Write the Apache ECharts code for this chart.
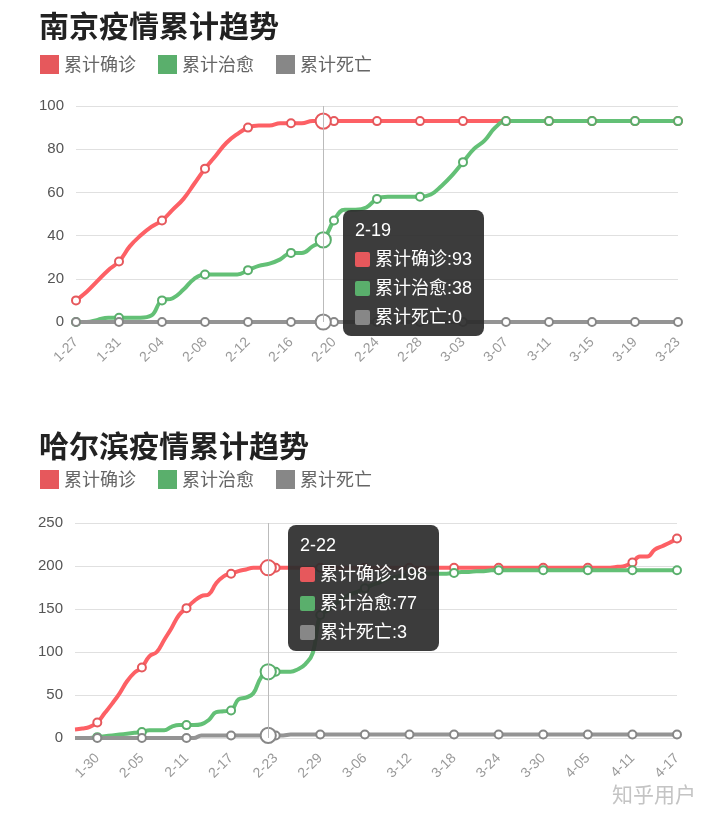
<!DOCTYPE html>
<html><head><meta charset="utf-8">
<script src="https://cdn.jsdelivr.net/npm/echarts@6/dist/echarts.min.js"></script>
<style>
html,body{margin:0;padding:0;background:#fff;width:720px;height:821px;overflow:hidden}
#c1{position:absolute;left:0;top:0;width:720px;height:415px}
#c2{position:absolute;left:0;top:415px;width:720px;height:406px}
</style></head><body>
<div id="c1"></div><div id="c2"></div>
<script>
const seriesNames = ['累计确诊', '累计治愈', '累计死亡'];
const seriesColors = ['#e6585c', '#5aaf6c', '#878787'];

// 南京
const njDates = ['1-27','1-28','1-29','1-30','1-31','2-01','2-02','2-03','2-04','2-05',
  '2-06','2-07','2-08','2-09','2-10','2-11','2-12','2-13','2-14','2-15',
  '2-16','2-17','2-18','2-19','2-20','2-21','2-22','2-23','2-24','2-25',
  '2-26','2-27','2-28','2-29','3-01','3-02','3-03','3-04','3-05','3-06',
  '3-07','3-08','3-09','3-10','3-11','3-12','3-13','3-14','3-15','3-16',
  '3-17','3-18','3-19','3-20','3-21','3-22','3-23'];
const njConfirmed = [10,14,19,24,28,35,40,44,47,52,
  57,64,71,77,83,87,90,91,91,92,
  92,92,93,93,93,93,93,93,93,93,
  93,93,93,93,93,93,93,93,93,93,
  93,93,93,93,93,93,93,93,93,93,
  93,93,93,93,93,93,93];
const njCured = [0,0,1,2,2,2,2,3,10,11,
  15,20,22,22,22,22,24,26,27,29,
  32,32,35,38,47,52,52,53,57,58,
  58,58,58,59,63,68,74,80,84,90,
  93,93,93,93,93,93,93,93,93,93,
  93,93,93,93,93,93,93];
const njDead = [0,0,0,0,0,0,0,0,0,0,
  0,0,0,0,0,0,0,0,0,0,
  0,0,0,0,0,0,0,0,0,0,
  0,0,0,0,0,0,0,0,0,0,
  0,0,0,0,0,0,0,0,0,0,
  0,0,0,0,0,0,0];

// 哈尔滨
const hrbDates = ['1-27','1-28','1-29','1-30','1-31','2-01','2-02','2-03','2-04','2-05',
  '2-06','2-07','2-08','2-09','2-10','2-11','2-12','2-13','2-14','2-15',
  '2-16','2-17','2-18','2-19','2-20','2-21','2-22','2-23','2-24','2-25',
  '2-26','2-27','2-28','2-29','3-01','3-02','3-03','3-04','3-05','3-06',
  '3-07','3-08','3-09','3-10','3-11','3-12','3-13','3-14','3-15','3-16',
  '3-17','3-18','3-19','3-20','3-21','3-22','3-23','3-24','3-25','3-26',
  '3-27','3-28','3-29','3-30','3-31','4-01','4-02','4-03','4-04','4-05',
  '4-06','4-07','4-08','4-09','4-10','4-11','4-12','4-13','4-14','4-15',
  '4-16','4-17'];
const hrbConfirmed = [10,11,13,18,29,40,52,66,76,82,
  95,100,114,128,143,151,159,165,167,180,
  188,191,194,196,198,198,198,198,198,198,
  198,198,198,198,198,198,198,198,198,198,
  198,198,198,198,198,198,198,198,198,198,
  198,198,198,198,198,198,198,198,198,198,
  198,198,198,198,198,198,198,198,198,198,
  198,198,198,199,200,204,211,211,219,223,
  227,232];
const hrbCured = [0,0,0,1,2,3,4,5,6,7,
  9,9,9,13,15,15,15,16,21,30,
  31,32,45,47,52,70,77,77,77,77,
  80,86,99,143,148,155,162,167,170,174,
  178,181,185,187,189,190,191,191,191,191,
  191,192,193,193,194,194,195,195,195,195,
  195,195,195,195,195,195,195,195,195,195,
  195,195,195,195,195,195,195,195,195,195,
  195,195];
const hrbDead = [0,0,0,0,0,0,0,0,0,0,
  0,0,0,0,0,0,0,3,3,3,
  3,3,3,3,3,3,3,3,3,4,
  4,4,4,4,4,4,4,4,4,4,
  4,4,4,4,4,4,4,4,4,4,
  4,4,4,4,4,4,4,4,4,4,
  4,4,4,4,4,4,4,4,4,4,
  4,4,4,4,4,4,4,4,4,4,
  4,4];

const FONT = '"Liberation Sans", "Noto Sans CJK SC", sans-serif';

function tipFormatter(params) {
  let h = '<div style="line-height:29px">' + params[0].axisValue + '</div>';
  params.forEach(function (p, i) {
    h += '<div style="line-height:29px;white-space:nowrap"><span style="display:inline-block;width:15px;height:15px;border-radius:2px;background:' +
      seriesColors[i] + ';margin-right:5px;vertical-align:-2px"></span>' + p.seriesName + ':' + p.value + '</div>';
  });
  return h;
}

function makeOption(cfg) {
  const values = [cfg.confirmed, cfg.cured, cfg.dead];
  return {
    animation: false,
    textStyle: { fontFamily: FONT },
    title: {
      text: cfg.title, left: 34, top: cfg.titleTop,
      textStyle: { fontSize: 30, fontWeight: 'bold', color: '#222', fontFamily: '"Noto Sans CJK SC", sans-serif' }
    },
    legend: {
      left: 35, top: cfg.legendTop, icon: 'rect', itemWidth: 19, itemHeight: 19, itemGap: 22,
      selectedMode: false,
      itemStyle: { borderWidth: 0 },
      textStyle: { fontSize: 18, color: '#666', fontFamily: '"Noto Sans CJK SC", sans-serif' },
      data: seriesNames.map(function (n, i) { return { name: n, itemStyle: { color: seriesColors[i] } }; })
    },
    grid: { left: cfg.gridLeft, right: cfg.gridRight, top: cfg.gridTop, bottom: cfg.gridBottom },
    tooltip: {
      trigger: 'axis', alwaysShowContent: true, triggerOn: 'none',
      backgroundColor: 'rgba(45,45,45,0.93)', borderWidth: 0, padding: [6, 12, 4, 12],
      textStyle: { color: '#fff', fontSize: 18, fontFamily: FONT },
      extraCssText: 'border-radius:8px;box-shadow:none;',
      position: function () { return cfg.tipPos; },
      axisPointer: { type: 'line', lineStyle: { color: '#bbb', width: 1, type: 'solid' } },
      formatter: tipFormatter
    },
    xAxis: {
      type: 'category', data: cfg.dates, boundaryGap: false,
      axisLine: { show: false }, axisTick: { show: false },
      axisLabel: { interval: cfg.labelInterval, rotate: 45, color: '#999', fontSize: 14, margin: 18 }
    },
    yAxis: {
      type: 'value', min: 0, max: cfg.yMax, interval: cfg.yInterval,
      axisLine: { show: false }, axisTick: { show: false },
      axisLabel: { color: '#555', fontSize: 15, margin: 12 },
      splitLine: { lineStyle: { color: '#e0e0e0' } }
    },
    graphic: cfg.graphic || [],
    series: seriesNames.map(function (n, i) {
      return {
        name: n, type: 'line', data: values[i], smooth: 0.45,
        symbol: 'emptyCircle', symbolSize: 8,
        lineStyle: { width: 4, color: seriesColors[i] },
        itemStyle: { color: seriesColors[i], borderWidth: 1 },
        emphasis: { scale: 1.9, lineStyle: { width: 4 } }
      };
    })
  };
}

const c1 = echarts.init(document.getElementById('c1'));
c1.setOption(makeOption({
  title: '南京疫情累计趋势', titleTop: 6, legendTop: 50,
  dates: njDates, confirmed: njConfirmed, cured: njCured, dead: njDead,
  yMax: 100, yInterval: 20, labelInterval: 3,
  gridLeft: 76, gridRight: 42, gridTop: 106, gridBottom: 93,
  tipPos: [343, 210]
}));
c1.dispatchAction({ type: 'showTip', seriesIndex: 0, dataIndex: 23 });

const c2 = echarts.init(document.getElementById('c2'));
c2.setOption(makeOption({
  title: '哈尔滨疫情累计趋势', titleTop: 11, legendTop: 50,
  dates: hrbDates, confirmed: hrbConfirmed, cured: hrbCured, dead: hrbDead,
  yMax: 250, yInterval: 50, labelInterval: function (idx) { return (idx - 3) % 6 === 0; },
  gridLeft: 75, gridRight: 43, gridTop: 108, gridBottom: 83,
  tipPos: [288, 110],
  graphic: [{ type: 'text', left: 612, top: 369, silent: true,
    style: { text: '知乎用户', fontSize: 21, fill: '#c4c4c4', fontFamily: '"Noto Sans CJK SC", sans-serif' } }]
}));
c2.dispatchAction({ type: 'showTip', seriesIndex: 0, dataIndex: 26 });
</script>
</body></html>
